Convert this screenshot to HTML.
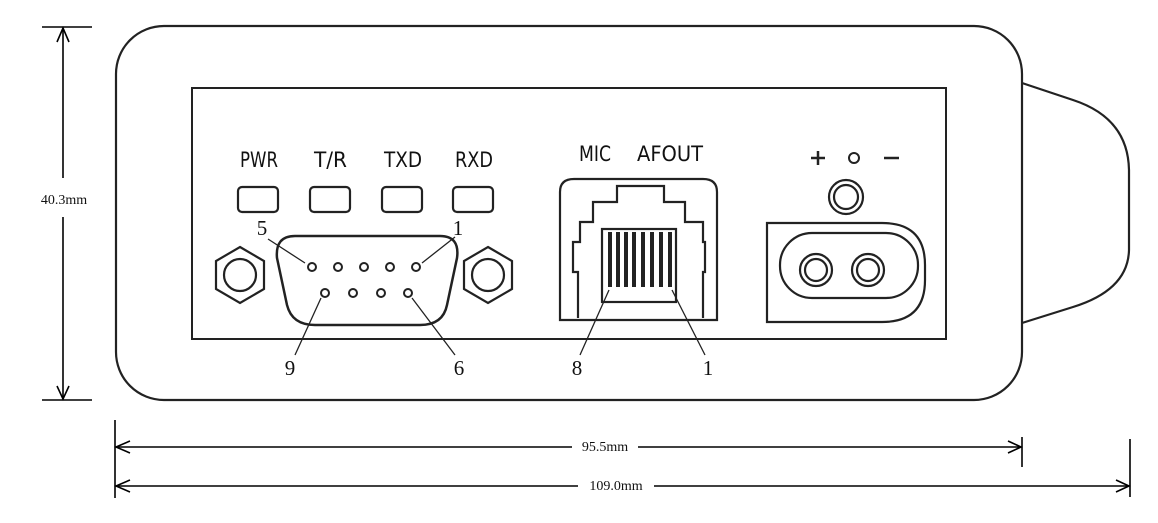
<!DOCTYPE html>
<html><head><style>body{margin:0;background:#fff}svg{display:block}
.t{font-family:"DejaVu Sans Condensed","Liberation Sans Narrow","Liberation Sans",sans-serif;font-size:21px;fill:#111}
.n{font-family:"Liberation Serif",serif;font-size:21px;fill:#111}
.m{font-family:"Liberation Serif",serif;font-size:14px;fill:#111}
</style></head><body>
<svg width="1158" height="523" viewBox="0 0 1158 523" xmlns="http://www.w3.org/2000/svg" fill="none" stroke="#222" stroke-width="2.2">
<rect x="116" y="26" width="906" height="374" rx="48"/>
<path d="M1022 83 L1073 100 Q1128 118 1129 170 L1129 250 Q1128 290 1073 307 L1022 323"/>
<rect x="192" y="88" width="754" height="251" stroke-width="2"/>
<g fill="none">
<rect x="238" y="187" width="40" height="25" rx="4"/>
<rect x="310" y="187" width="40" height="25" rx="4"/>
<rect x="382" y="187" width="40" height="25" rx="4"/>
<rect x="453" y="187" width="40" height="25" rx="4"/>
</g>
<g stroke="none">
<text class="t" x="240" y="167" textLength="38" lengthAdjust="spacingAndGlyphs">PWR</text>
<text class="t" x="314" y="167" textLength="33" lengthAdjust="spacingAndGlyphs">T/R</text>
<text class="t" x="384" y="167" textLength="38" lengthAdjust="spacingAndGlyphs">TXD</text>
<text class="t" x="455" y="167" textLength="38" lengthAdjust="spacingAndGlyphs">RXD</text>
<text class="t" x="579" y="161" textLength="32" lengthAdjust="spacingAndGlyphs">MIC</text>
<text class="t" x="637" y="161" textLength="66" lengthAdjust="spacingAndGlyphs">AFOUT</text>
<text class="n" x="262" y="235" text-anchor="middle">5</text>
<text class="n" x="458" y="235" text-anchor="middle">1</text>
<text class="n" x="290" y="375" text-anchor="middle">9</text>
<text class="n" x="459" y="375" text-anchor="middle">6</text>
<text class="n" x="577" y="375" text-anchor="middle">8</text>
<text class="n" x="708" y="375" text-anchor="middle">1</text>
</g>
<polygon points="240,247 264,261 264,289 240,303 216,289 216,261"/>
<circle cx="240" cy="275" r="16"/>
<polygon points="488,247 512,261 512,289 488,303 464,289 464,261"/>
<circle cx="488" cy="275" r="16"/>
<path d="M295 236 L440 236 Q460 236 457 258 L447 305 Q443 325 420 325 L315 325 Q292 325 287 305 L277 258 Q275 236 295 236 Z" stroke-width="2.5"/>
<g stroke-width="2">
<circle cx="312" cy="267" r="4"/><circle cx="338" cy="267" r="4"/><circle cx="364" cy="267" r="4"/><circle cx="390" cy="267" r="4"/><circle cx="416" cy="267" r="4"/>
<circle cx="325" cy="293" r="4"/><circle cx="353" cy="293" r="4"/><circle cx="381" cy="293" r="4"/><circle cx="408" cy="293" r="4"/>
</g>
<g stroke-width="1.3">
<line x1="268" y1="239" x2="305" y2="263"/>
<line x1="455" y1="237" x2="422" y2="263"/>
<line x1="295" y1="355" x2="321" y2="298"/>
<line x1="455" y1="355" x2="412" y2="298"/>
<line x1="580" y1="355" x2="609" y2="290"/>
<line x1="705" y1="355" x2="672" y2="290"/>
</g>
<path d="M560 320 L560 192 Q560 179 574 179 L703 179 Q717 179 717 192 L717 320 Z"/>
<path d="M578 318 L578 272 L573 272 L573 242 L580 242 L580 222 L593 222 L593 202 L617 202 L617 186 L664 186 L664 202 L685 202 L685 222 L703 222 L703 242 L705 242 L705 272 L703 272 L703 318"/>
<rect x="602" y="229" width="74" height="73"/>
<g stroke-width="4">
<line x1="610" y1="232" x2="610" y2="287"/><line x1="618" y1="232" x2="618" y2="287"/><line x1="626" y1="232" x2="626" y2="287"/><line x1="634" y1="232" x2="634" y2="287"/>
<line x1="643" y1="232" x2="643" y2="287"/><line x1="652" y1="232" x2="652" y2="287"/><line x1="661" y1="232" x2="661" y2="287"/><line x1="670" y1="232" x2="670" y2="287"/>
</g>
<g stroke-width="2.5">
<line x1="811" y1="158" x2="825" y2="158"/><line x1="818" y1="151" x2="818" y2="165"/>
<circle cx="854" cy="158" r="5" stroke-width="2"/>
<line x1="884" y1="158" x2="899" y2="158"/>
</g>
<circle cx="846" cy="197" r="17"/><circle cx="846" cy="197" r="12"/>
<path d="M767 223 L882 223 Q925 223 925 265 L925 280 Q925 322 882 322 L767 322 Z"/>
<rect x="780" y="233" width="138" height="65" rx="32"/>
<circle cx="816" cy="270" r="16"/><circle cx="816" cy="270" r="11"/>
<circle cx="868" cy="270" r="16"/><circle cx="868" cy="270" r="11"/>
<g stroke="#000" stroke-width="1.6">
<line x1="42" y1="27" x2="92" y2="27"/><line x1="42" y1="400" x2="92" y2="400"/>
<line x1="63" y1="28" x2="63" y2="178"/><line x1="63" y1="217" x2="63" y2="399"/>
<polyline points="57,42 63,28 69,42"/><polyline points="57,386 63,399 69,386"/>
<line x1="115" y1="420" x2="115" y2="498"/>
<line x1="1022" y1="437" x2="1022" y2="467"/>
<line x1="1130" y1="439" x2="1130" y2="497"/>
<line x1="116" y1="447" x2="572" y2="447"/><line x1="638" y1="447" x2="1021" y2="447"/>
<line x1="116" y1="486" x2="578" y2="486"/><line x1="654" y1="486" x2="1129" y2="486"/>
<polyline points="130,441 116,447 130,453"/><polyline points="130,480 116,486 130,492"/>
<polyline points="1008,441 1021,447 1008,453"/><polyline points="1116,480 1129,486 1116,492"/>
</g>
<g stroke="none">
<text class="m" x="64" y="204" text-anchor="middle">40.3mm</text>
<text class="m" x="605" y="451" text-anchor="middle">95.5mm</text>
<text class="m" x="616" y="490" text-anchor="middle">109.0mm</text>
</g>
</svg>
</body></html>
